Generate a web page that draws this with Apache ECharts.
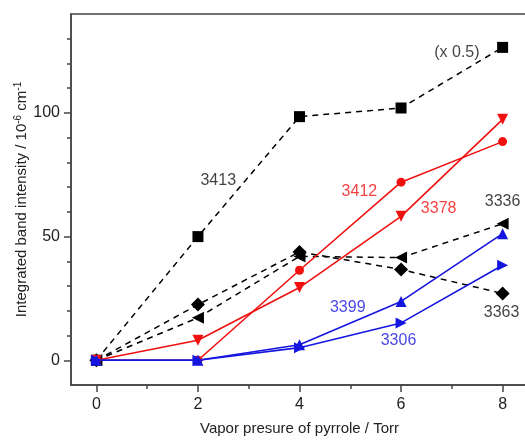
<!DOCTYPE html>
<html>
<head>
<meta charset="utf-8">
<script src="https://cdn.jsdelivr.net/npm/echarts@6/dist/echarts.min.js"></script>
<style>
  html, body { margin: 0; padding: 0; background: #fff; }
  #chart { width: 525px; height: 440px; }
</style>
</head>
<body>
<div id="chart"></div>
<script>
// pressure values (Torr)
var pressure = [0, 2, 4, 6, 8];

// band intensities, 10^-6 cm^-1
var band3413 = [0, 50, 98.5, 102, 126.5];   // (x 0.5)
var band3363 = [0, 22.5, 43.8, 36.7, 27];
var band3336 = [0, 17.2, 42, 41.5, 55.2];
var band3412 = [0, 0, 36.4, 72, 88.4];
var band3378 = [0, 8.1, 29.4, 58.2, 97.4];
var band3399 = [0, 0, 6.3, 23.8, 51.2];
var band3306 = [0, 0, 5.1, 15.1, 38.4];

var xMajor = [0, 2, 4, 6, 8];
var xMinor = [1, 3, 5, 7];
var yMajor = [0, 50, 100];
var yMinor = [10, 20, 30, 40, 60, 70, 80, 90, 110, 120, 130];

// text annotations placed in data units
var noteText = ['(x 0.5)', '3413', '3412', '3378', '3336', '3363', '3399', '3306'];
var noteX = [7.1, 2.4, 5.18, 6.74, 8.0, 7.98, 4.95, 5.95];
var noteY = [124.5, 72.8, 68.3, 61.4, 64.3, 19.4, 21.4, 8.1];
var noteColor = ['#111', '#111', '#f01010', '#f01010', '#111', '#111', '#1515e0', '#1515e0'];

var font = 'Liberation Sans, Arial, sans-serif';
var axisColor = '#444';

function pairs(ys) {
    return pressure.map(function (x, i) { return [x, ys[i]]; });
}

function dashed(name, ys, symbol, size, rotate) {
    return {
        name: name, type: 'line', data: pairs(ys),
        symbol: symbol, symbolSize: size, symbolRotate: rotate || 0,
        lineStyle: { color: '#000', width: 1.5, type: [6, 5] },
        itemStyle: { color: '#000' },
        z: 2
    };
}

function solid(name, ys, color, symbol, size, rotate) {
    return {
        name: name, type: 'line', data: pairs(ys),
        symbol: symbol, symbolSize: size, symbolRotate: rotate || 0,
        lineStyle: { color: color, width: 1.6 },
        itemStyle: { color: color },
        z: 3
    };
}

var notes = noteText.map(function (t, i) {
    return {
        value: [noteX[i], noteY[i]],
        label: { show: true, position: 'inside', formatter: t, color: noteColor[i], fontSize: 16, fontFamily: font }
    };
});

var chart = echarts.init(document.getElementById('chart'));

var option = {
    animation: false,
    grid: {
        left: 71, top: 14, width: 457, height: 371,
        show: true, borderColor: axisColor, borderWidth: 1.5,
        containLabel: false, outerBoundsMode: 'none'
    },
    xAxis: [
        {
            type: 'value', min: -0.5, max: 8.5, position: 'bottom',
            name: 'Vapor presure of pyrrole / Torr', nameLocation: 'middle', nameGap: 36,
            nameMoveOverlap: false,
            nameTextStyle: { fontSize: 15, color: '#222', fontFamily: font },
            axisLine: { show: true, onZero: false, lineStyle: { color: axisColor, width: 1.5 } },
            axisTick: { show: true, length: 7, customValues: xMajor, lineStyle: { color: axisColor, width: 1.5 } },
            axisLabel: { customValues: xMajor, fontSize: 16, color: '#222', fontFamily: font, margin: 12 },
            splitLine: { show: false }
        },
        {
            type: 'value', min: -0.5, max: 8.5, position: 'bottom',
            axisLine: { show: false, onZero: false },
            axisTick: { show: true, length: 4, customValues: xMinor, lineStyle: { color: axisColor, width: 1.5 } },
            axisLabel: { show: false },
            splitLine: { show: false }
        }
    ],
    yAxis: [
        {
            type: 'value', min: -10, max: 140, position: 'left',
            name: 'Integrated band intensity / 10{sup|-6} cm{sup|-1}', nameLocation: 'middle', nameGap: 40,
            nameMoveOverlap: false,
            nameTextStyle: {
                fontSize: 15, color: '#222', fontFamily: font,
                rich: { sup: { fontSize: 10, color: '#222', fontFamily: font, verticalAlign: 'top', padding: [0, 0, 8, 0] } }
            },
            axisLine: { show: true, onZero: false, lineStyle: { color: axisColor, width: 1.5 } },
            axisTick: { show: true, length: 7, customValues: yMajor, lineStyle: { color: axisColor, width: 1.5 } },
            axisLabel: { customValues: yMajor, fontSize: 16, color: '#222', fontFamily: font, margin: 11 },
            splitLine: { show: false }
        },
        {
            type: 'value', min: -10, max: 140, position: 'left',
            axisLine: { show: false, onZero: false },
            axisTick: { show: true, length: 4, customValues: yMinor, lineStyle: { color: axisColor, width: 1.5 } },
            axisLabel: { show: false },
            splitLine: { show: false }
        }
    ],
    series: [
        dashed('3413', band3413, 'rect', 11),
        dashed('3363', band3363, 'diamond', 14),
        dashed('3336', band3336, 'triangle', 12, 90),
        solid('3412', band3412, '#f01010', 'circle', 9),
        solid('3378', band3378, '#f01010', 'triangle', 11, 180),
        solid('3399', band3399, '#1515e0', 'triangle', 11),
        solid('3306', band3306, '#1515e0', 'triangle', 11, -90),
        {
            name: 'notes', type: 'scatter', data: notes,
            symbolSize: 0, silent: true, z: 5
        }
    ]
};

chart.setOption(option);
</script>
</body>
</html>
